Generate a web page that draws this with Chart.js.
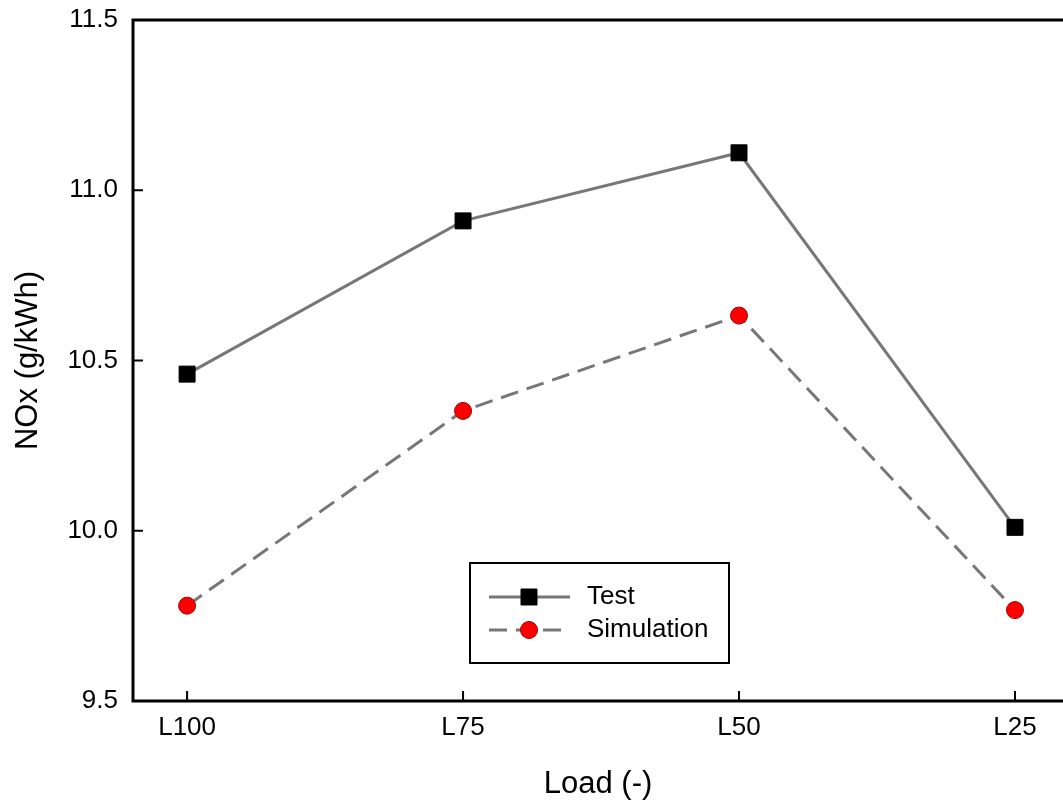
<!DOCTYPE html>
<html>
<head>
<meta charset="utf-8">
<script src="https://cdn.jsdelivr.net/npm/chart.js@4/dist/chart.umd.min.js"></script>
<style>
    html, body { margin: 0; padding: 0; background: #fff; overflow: hidden; }
    canvas { display: block; }
</style>
</head>
<body>
<canvas id="noxChart" width="1063" height="805"></canvas>
<script>
// ======================================================
// Data
// ======================================================

const loadLabels = ["L100", "L75", "L50", "L25"];

const testValues = [10.46, 10.91, 11.11, 10.01];

const simulationValues = [9.78, 10.352, 10.632, 9.767];

const yTicks = [9.5, 10.0, 10.5, 11.0, 11.5];

// x range: the plot frame runs off the right edge of the figure
const xMin = -0.196;
const xMax = 3.174;

// ======================================================
// Frame, inward ticks and legend box
// ======================================================

const framePlugin = {

    id: "frame",

    beforeDatasetsDraw(chart) {

        const { ctx, chartArea, scales } = chart;

        ctx.save();
        ctx.strokeStyle = "#000";
        ctx.lineWidth = 3;
        ctx.lineCap = "square";

        ctx.beginPath();
        ctx.moveTo(chartArea.right + 10, chartArea.top);
        ctx.lineTo(chartArea.left, chartArea.top);
        ctx.lineTo(chartArea.left, chartArea.bottom);
        ctx.lineTo(chartArea.right + 10, chartArea.bottom);
        ctx.stroke();

        ctx.lineWidth = 2;
        ctx.lineCap = "butt";

        scales.y.ticks.forEach(t => {
            const y = scales.y.getPixelForValue(t.value);
            ctx.beginPath();
            ctx.moveTo(chartArea.left, y);
            ctx.lineTo(chartArea.left + 10, y);
            ctx.stroke();
        });

        scales.x.ticks.forEach(t => {
            const x = scales.x.getPixelForValue(t.value);
            ctx.beginPath();
            ctx.moveTo(x, chartArea.bottom);
            ctx.lineTo(x, chartArea.bottom - 10);
            ctx.stroke();
        });

        ctx.restore();
    },

    afterDraw(chart) {

        const { ctx } = chart;

        const boxX = 470, boxY = 563, boxW = 259, boxH = 100;

        ctx.save();

        ctx.fillStyle = "#fff";
        ctx.fillRect(boxX, boxY, boxW, boxH);
        ctx.strokeStyle = "#000";
        ctx.lineWidth = 2;
        ctx.strokeRect(boxX, boxY, boxW, boxH);

        const rows = [597, 630];

        chart.data.datasets.forEach((ds, i) => {

            const y = rows[i];

            ctx.strokeStyle = ds.borderColor;
            ctx.lineWidth = ds.borderWidth;
            ctx.setLineDash(ds.borderDash || []);
            ctx.lineDashOffset = 0;
            ctx.beginPath();
            ctx.moveTo(489, y);
            ctx.lineTo(570, y);
            ctx.stroke();
            ctx.setLineDash([]);

            ctx.fillStyle = ds.pointBackgroundColor;
            ctx.strokeStyle = ds.pointBorderColor;
            ctx.lineWidth = ds.pointBorderWidth;
            Chart.helpers.drawPoint(ctx, {
                pointStyle: ds.pointStyle,
                radius: ds.pointRadius,
                borderWidth: ds.pointBorderWidth
            }, 529, y);

            ctx.fillStyle = "#000";
            ctx.font = "26px 'Liberation Sans', Arial, sans-serif";
            ctx.textBaseline = "middle";
            ctx.textAlign = "left";
            ctx.fillText(ds.label, 587, y);
        });

        ctx.restore();
    }
};

// ======================================================
// Create Chart
// ======================================================

const tickFont = {
    family: "'Liberation Sans', Arial, sans-serif",
    size: 26
};

const titleFont = {
    family: "'Liberation Sans', Arial, sans-serif",
    size: 31
};

new Chart(
    document.getElementById("noxChart"),
    {
        type: "line",

        data: {
            datasets: [
                {
                    label: "Test",
                    data: testValues.map((v, i) => ({ x: i, y: v })),
                    borderColor: "#777777",
                    borderWidth: 3,
                    tension: 0,
                    fill: false,
                    pointStyle: "rect",
                    pointRadius: 11.3,
                    pointBackgroundColor: "#000",
                    pointBorderColor: "#000",
                    pointBorderWidth: 1
                },
                {
                    label: "Simulation",
                    data: simulationValues.map((v, i) => ({ x: i, y: v })),
                    borderColor: "#777777",
                    borderWidth: 3,
                    borderDash: [18, 9],
                    tension: 0,
                    fill: false,
                    pointStyle: "circle",
                    pointRadius: 8.5,
                    pointBackgroundColor: "#ff0000",
                    pointBorderColor: "#a00000",
                    pointBorderWidth: 1
                }
            ]
        },

        options: {

            responsive: false,
            animation: false,

            layout: {
                autoPadding: false,
                padding: { left: 0, right: 0, top: 20, bottom: 0 }
            },

            plugins: {
                legend: { display: false },
                tooltip: { enabled: false }
            },

            scales: {

                x: {
                    type: "linear",
                    min: xMin,
                    max: xMax,
                    afterBuildTicks: scale => {
                        scale.ticks = loadLabels.map((_, i) => ({ value: i }));
                    },
                    afterFit: scale => {
                        scale.height = 104;
                        scale.paddingLeft = 0;
                        scale.paddingRight = 0;
                    },
                    grid: { display: false, drawTicks: false },
                    border: { display: false },
                    ticks: {
                        color: "#000",
                        font: tickFont,
                        padding: 11,
                        maxRotation: 0,
                        autoSkip: false,
                        callback: v => loadLabels[v]
                    },
                    title: {
                        display: true,
                        text: "Load (-)",
                        color: "#000",
                        font: titleFont,
                        padding: { top: 0, bottom: 2 }
                    }
                },

                y: {
                    min: 9.5,
                    max: 11.5,
                    afterBuildTicks: scale => {
                        scale.ticks = yTicks.map(v => ({ value: v }));
                    },
                    afterFit: scale => {
                        scale.width = 133;
                        scale.paddingTop = 0;
                        scale.paddingBottom = 0;
                    },
                    grid: { display: false, drawTicks: false },
                    border: { display: false },
                    ticks: {
                        color: "#000",
                        font: tickFont,
                        padding: 15,
                        callback: v => v.toFixed(1)
                    },
                    title: {
                        display: true,
                        text: "NOx (g/kWh)",
                        color: "#000",
                        font: titleFont,
                        padding: { top: 10, bottom: 0 }
                    }
                }
            }
        },

        plugins: [framePlugin]
    }
);
</script>
</body>
</html>
